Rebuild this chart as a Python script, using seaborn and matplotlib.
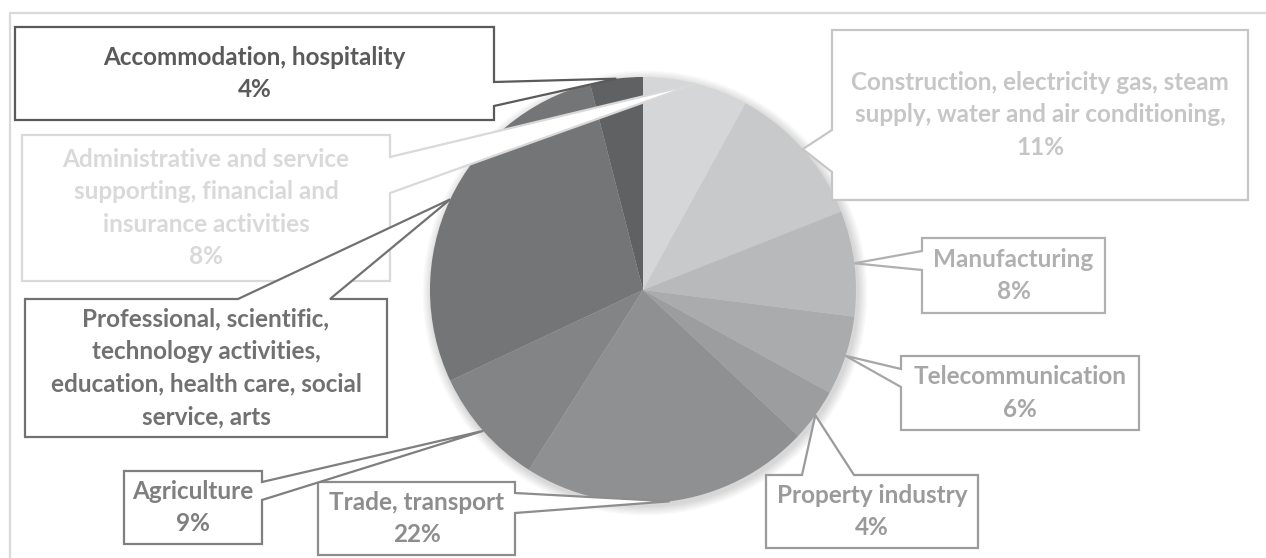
import matplotlib
matplotlib.use("Agg")
import matplotlib.pyplot as plt
import seaborn as sns
import numpy as np
from matplotlib.patches import Polygon, Circle

# 데이터
sectors = [
    "Administrative and service\nsupporting, financial and\ninsurance activities",
    "Construction, electricity gas, steam\nsupply, water and air conditioning,",
    "Manufacturing",
    "Telecommunication",
    "Property industry",
    "Trade, transport",
    "Agriculture",
    "Professional, scientific,\ntechnology activities,\neducation, health care, social\nservice, arts",
    "Accommodation, hospitality",
]
shares = [8, 11, 8, 6, 4, 22, 9, 28, 4]
show_pct = [True, True, True, True, True, True, True, False, True]

slice_colors = ["#d5d6d7", "#c8c9ca", "#b8b9ba", "#aaabac", "#9c9d9e",
                "#8f9091", "#838485", "#747577", "#606163"]
label_colors = ["#d9d9d9", "#c6c6c6", "#b0b0b0", "#a6a6a6", "#9a9a9a",
                "#8d8d8d", "#7f7f7f", "#717171", "#5a5a5a"]

# 레이아웃 (픽셀 좌표): left, top, right, bottom, callout side, gap start, gap end
boxes = [
    (22, 135, 390, 281, "right", 157, 193),
    (832, 30, 1248, 200, "left", 130, 172),
    (922, 238, 1105, 313, "left", 251, 270),
    (901, 356, 1139, 430, "left", 369, 387),
    (766, 475, 978, 548, "top", 802, 854),
    (318, 482, 515, 555, "right", 493, 513),
    (124, 471, 262, 544, "right", 482, 500),
    (25, 299, 387, 437, "top", 238, 330),
    (15, 27, 494, 120, "right", 82, 106),
]

sns.set_theme(style="white")
plt.rcParams['font.family'] = ['Lato', 'DejaVu Sans']

W, H = 1266, 558
fig = plt.figure(figsize=(W / 100, H / 100), dpi=100)
ax = fig.add_axes([0, 0, 1, 1])

cx, cy, r = 643, 290, 213

# 그림자 느낌
for i in range(8):
    ax.add_patch(Circle((cx + 2, cy + 3), r + 1 + i * 1.2, color="#000000",
                        alpha=0.018, lw=0, zorder=0))

ax.pie(shares, colors=slice_colors, startangle=270, counterclock=True,
       center=(cx, cy), radius=r, wedgeprops=dict(linewidth=0))

# 조각 중앙 각도 (위에서 시계방향)
cum = np.cumsum([0] + shares[:-1])
mid = (cum + np.array(shares) / 2) / sum(shares) * 2 * np.pi

for k, (L, T, R, B, side, g1, g2) in enumerate(boxes):
    tip = (cx + r * np.sin(mid[k]), cy - r * np.cos(mid[k]))
    if side == "right":
        pts = [(L, T), (R, T), (R, g1), tip, (R, g2), (R, B), (L, B)]
    elif side == "left":
        pts = [(L, T), (R, T), (R, B), (L, B), (L, g2), tip, (L, g1)]
    else:  # top
        pts = [(L, T), (g1, T), tip, (g2, T), (R, T), (R, B), (L, B)]
    ax.add_patch(Polygon(pts, closed=True, facecolor="white",
                         edgecolor=label_colors[k], lw=1.6, zorder=5,
                         joinstyle="miter"))
    txt = sectors[k]
    if show_pct[k]:
        txt = txt + "\n" + f"{shares[k]}%"
    ax.text((L + R) / 2, (T + B) / 2, txt, ha="center", va="center",
            color=label_colors[k], fontsize=17.5, fontweight="bold",
            linespacing=1.5, zorder=6)

# 차트 테두리
ax.plot([10, W], [13, 13], color="#d9d9d9", lw=1.6, zorder=1)
ax.plot([10, 10], [13, H], color="#d9d9d9", lw=1.6, zorder=1)

ax.set_xlim(0, W)
ax.set_ylim(H, 0)
ax.set_aspect("auto")
ax.axis("off")

plt.savefig("out.png", dpi=100)
plt.close()
